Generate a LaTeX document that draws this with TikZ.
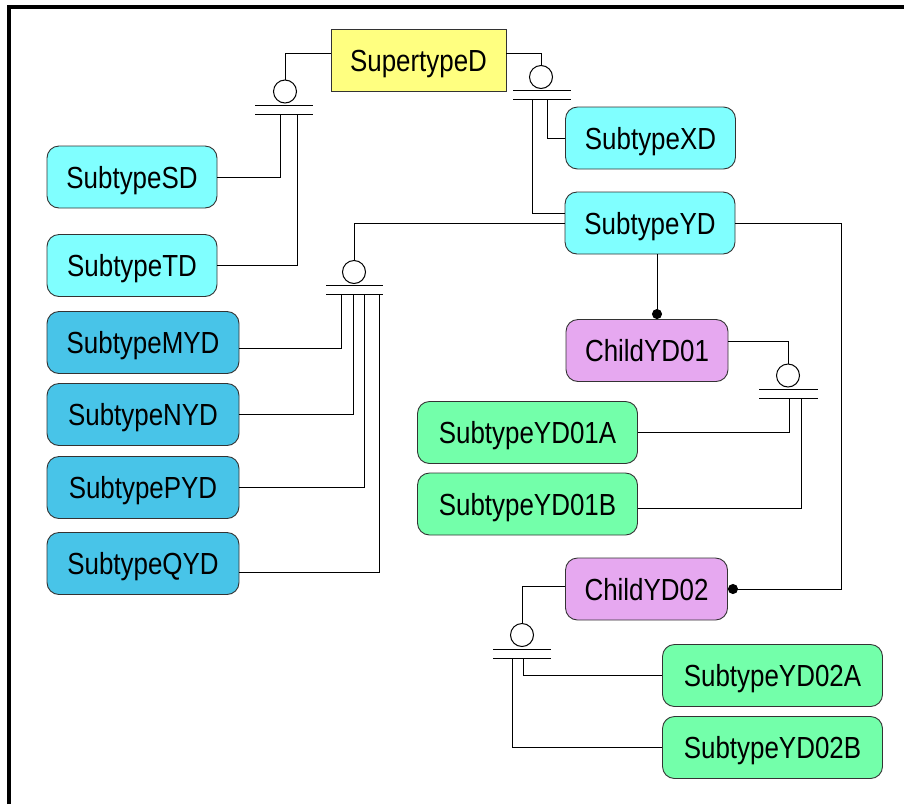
\documentclass[tikz,border=0pt]{standalone}
\usepackage{fontspec}
\setmainfont{Liberation Sans}[FakeStretch=0.85]
\usetikzlibrary{arrows.meta}

\definecolor{superfill}{HTML}{FFFF80}
\definecolor{lightfill}{HTML}{80FFFF}
\definecolor{darkfill}{HTML}{48C4E8}
\definecolor{childfill}{HTML}{E6A8F0}
\definecolor{leaffill}{HTML}{73FFAA}

\tikzset{
  ent/.style={draw=black!80, line width=0.9pt, rounded corners=12pt,
    minimum height=62pt, inner xsep=19pt, text height=22pt, text depth=0pt,
    font=\fontsize{30.5}{36}\selectfont},
  superent/.style={ent, sharp corners, fill=superfill, minimum width=175pt},
  lightent/.style={ent, fill=lightfill, minimum width=170pt},
  darkent/.style={ent, fill=darkfill, minimum width=192pt},
  childent/.style={ent, fill=childfill, minimum width=162pt},
  leafent/.style={ent, fill=leaffill, minimum width=220pt},
  cat/.style={circle, draw, line width=1pt, minimum size=23pt, inner sep=0pt},
  rel/.style={line width=1pt},
  dotrel/.style={rel, -{Circle[length=10pt, width=10pt]}},
}

\begin{document}
\begin{tikzpicture}[x=1pt, y=-1pt]
\useasboundingbox (0,0) rectangle (904,804);
\draw[line width=4pt] (9,804) -- (9,7) -- (904,7);

% entities
\node[superent] (SupertypeD) at (418.5,60) {SupertypeD};
\node[lightent] (SubtypeXD) at (650.5,138) {SubtypeXD};
\node[lightent] (SubtypeYD) at (650,223) {SubtypeYD};
\node[lightent] (SubtypeSD) at (132,177) {SubtypeSD};
\node[lightent] (SubtypeTD) at (132,265.5) {SubtypeTD};
\node[darkent] (SubtypeMYD) at (143,342.5) {SubtypeMYD};
\node[darkent] (SubtypeNYD) at (143,414.5) {SubtypeNYD};
\node[darkent] (SubtypePYD) at (143,487.5) {SubtypePYD};
\node[darkent] (SubtypeQYD) at (143,563.5) {SubtypeQYD};
\node[childent] (ChildYD01) at (647,350.5) {ChildYD01};
\node[childent] (ChildYD02) at (646.5,589) {ChildYD02};
\node[leafent] (SubtypeYD01A) at (527.5,432.5) {SubtypeYD01A};
\node[leafent] (SubtypeYD01B) at (527.5,504) {SubtypeYD01B};
\node[leafent] (SubtypeYD02A) at (772.5,675.5) {SubtypeYD02A};
\node[leafent] (SubtypeYD02B) at (772.5,747.5) {SubtypeYD02B};

% categories: circle with two bars
\node[cat] (catA) at (285,91.5) {};
\draw[rel] (255,105) -- (313,105);
\draw[rel] (255,114) -- (313,114);
\node[cat] (catB) at (541,77) {};
\draw[rel] (513,90) -- (571,90);
\draw[rel] (513,99) -- (571,99);
\node[cat] (catC) at (354,272) {};
\draw[rel] (326,285) -- (383,285);
\draw[rel] (326,294) -- (383,294);
\node[cat] (catD) at (788,375.5) {};
\draw[rel] (759,389) -- (818,389);
\draw[rel] (759,398) -- (818,398);
\node[cat] (catE) at (522,635) {};
\draw[rel] (493,649) -- (551,649);
\draw[rel] (493,658) -- (551,658);

% generic to category
\draw[rel] ([yshift=7pt]SupertypeD.west) -| (catA);
\draw[rel] ([yshift=7pt]SupertypeD.east) -| (catB);
\draw[rel] (SubtypeYD) -| (catC);
\draw[rel] ([yshift=9pt]ChildYD01.east) -| (catD);
\draw[rel] ([yshift=3pt]ChildYD02.west) -| (catE);

% category legs
\coordinate (legA1) at (280,114);
\coordinate (legA2) at (297,114);
\coordinate (legB1) at (532,99);
\coordinate (legB2) at (547,99);
\coordinate (legC1) at (341,294);
\coordinate (legC2) at (353,294);
\coordinate (legC3) at (364,294);
\coordinate (legC4) at (379,294);
\coordinate (legD1) at (789,398);
\coordinate (legD2) at (801,398);
\coordinate (legE1) at (523,658);
\coordinate (legE2) at (512,658);

\draw[rel] (SubtypeSD) -| (legA1);
\draw[rel] (SubtypeTD) -| (legA2);
\draw[rel] (legB1) |- ([yshift=10pt]SubtypeYD.west);
\draw[rel] (legB2) |- (SubtypeXD);
\draw[rel] ([yshift=-6pt]SubtypeMYD.east) -| (legC1);
\draw[rel] (SubtypeNYD) -| (legC2);
\draw[rel] (SubtypePYD) -| (legC3);
\draw[rel] ([yshift=-9pt]SubtypeQYD.east) -| (legC4);
\draw[rel] (SubtypeYD01A) -| (legD1);
\draw[rel] ([yshift=-4pt]SubtypeYD01B.east) -| (legD2);
\draw[rel] (legE1) |- (SubtypeYD02A);
\draw[rel] (legE2) |- (SubtypeYD02B);

% relationships
\coordinate (bendYD) at (841,589);
\draw[dotrel] ([xshift=7pt]SubtypeYD.south) -- ([xshift=7pt]SubtypeYD.south |- ChildYD01.north);
\draw[dotrel] (SubtypeYD) -| (bendYD) -- (ChildYD02);
\end{tikzpicture}
\end{document}
